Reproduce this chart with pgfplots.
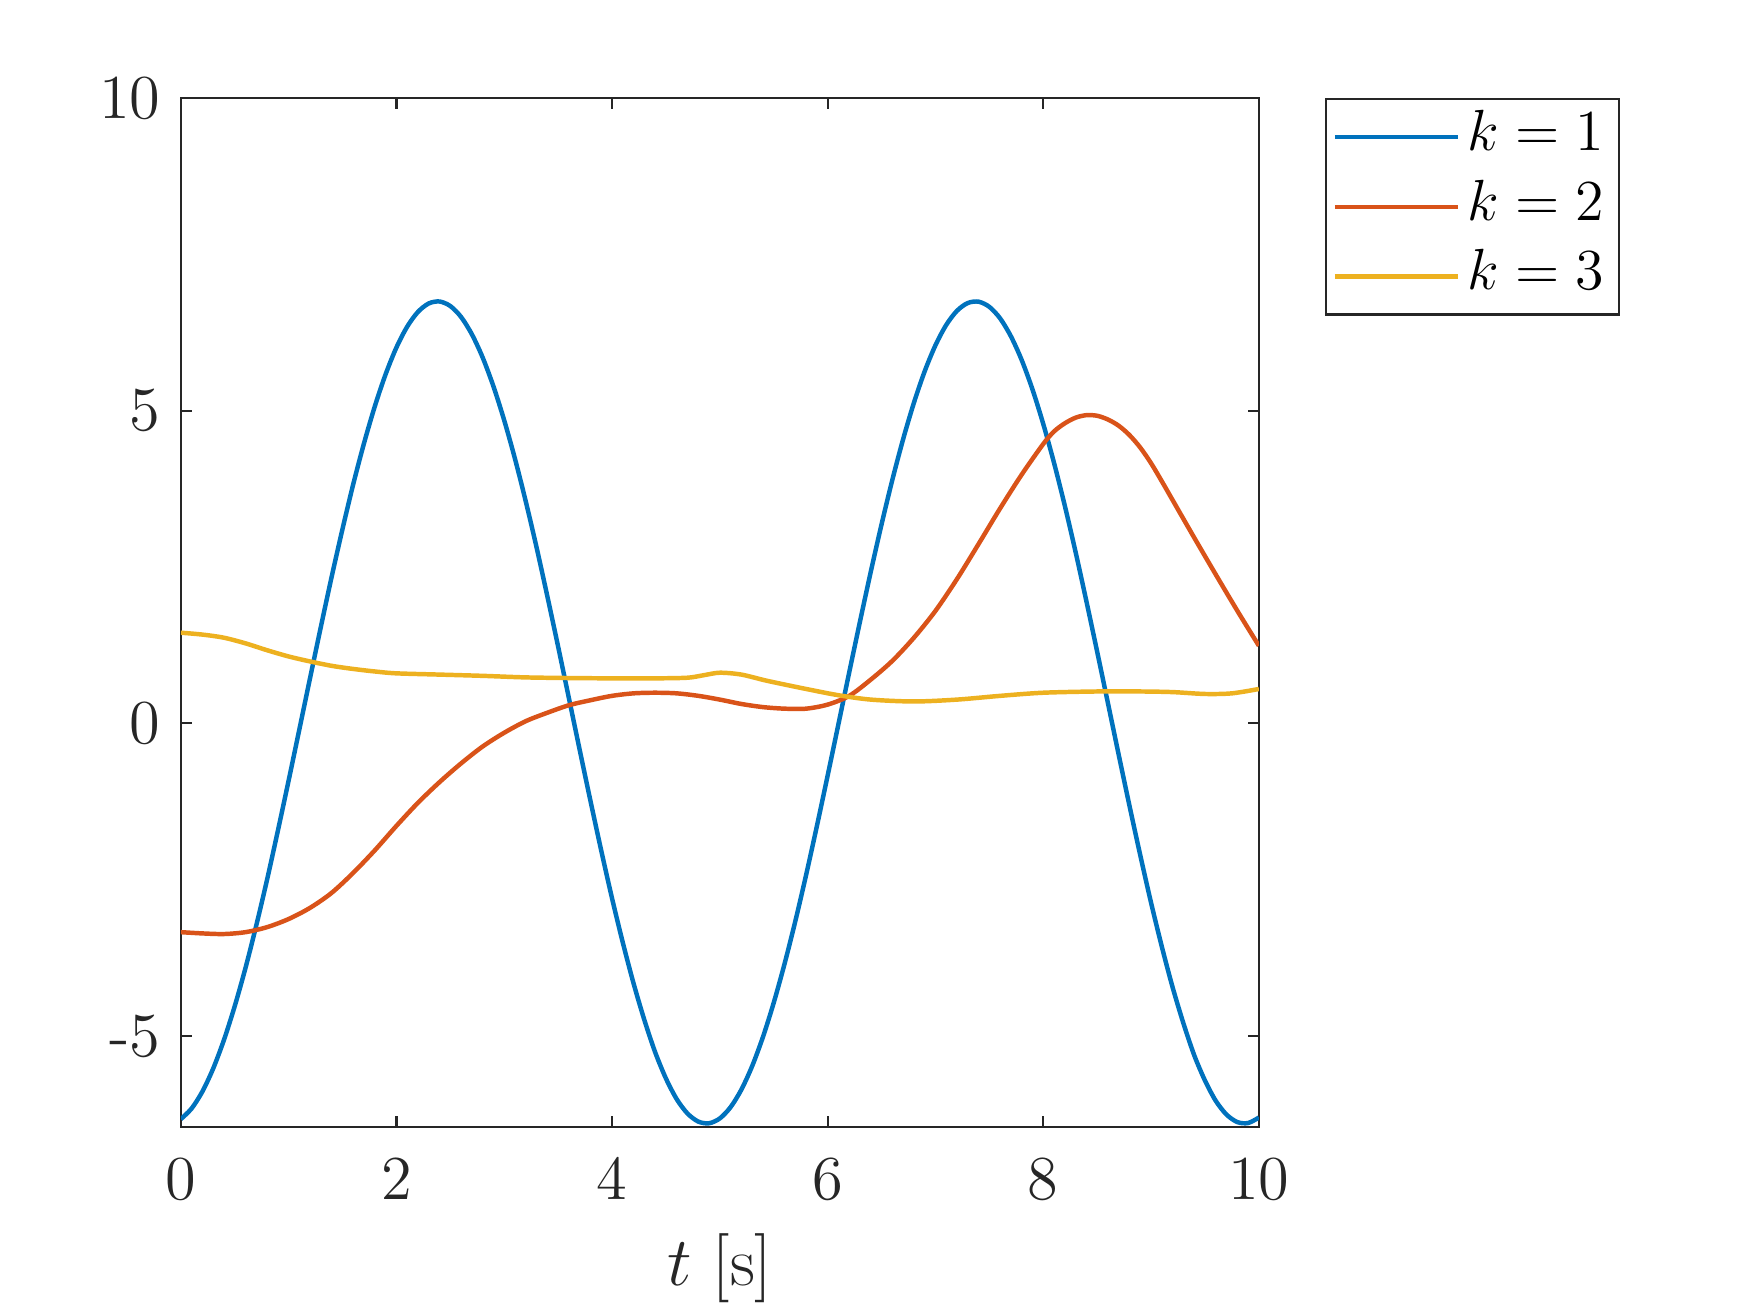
\RequirePackage{fix-cm}
\documentclass[border=0pt]{standalone}
\usepackage{pgfplots}
\pgfplotsset{compat=1.18}
\definecolor{c1}{rgb}{0,0.447,0.741}
\definecolor{c2}{rgb}{0.85,0.325,0.098}
\definecolor{c3}{rgb}{0.929,0.694,0.125}
\definecolor{axgray}{rgb}{0.15,0.15,0.15}
\begin{document}
\begin{tikzpicture}
\useasboundingbox (-40.5pt,-41.5pt) rectangle (351.5pt,252.5pt);
\begin{axis}[
  scale only axis, width=241.5pt, height=230.5pt,
  at={(0,0)}, anchor=south west,
  xmin=0, xmax=10, ymin=-6.46, ymax=10,
  xtick={0,2,4,6,8,10},
  ytick={-5,0,5,10}, yticklabels={-5,0,5,10},
  tick align=inside, tick pos=both, ticklabel pos=left,
  major tick length=2.4pt,
  axis line style={axgray, line width=0.5pt},
  every tick/.style={axgray, line width=0.5pt},
  tick label style={font=\fontsize{14}{17}\selectfont, text=axgray},
  xticklabel style={yshift=-3.6pt},
  yticklabel style={xshift=-1pt},
  xlabel={$t$ [s]},
  xlabel style={font=\fontsize{15.5}{18}\selectfont, at={(axis description cs:0.5,0)}, anchor=base, yshift=-35.5pt, text=axgray},
  legend style={at={(1.0611,1)}, anchor=north west, draw=axgray, line width=0.5pt,
    font=\fontsize{13}{16}\selectfont, inner xsep=1.5pt, inner ysep=0.7pt, row sep=0pt,
    nodes={inner sep=1.8pt, text height=9pt, text depth=3pt}},
  legend cell align=left,
  legend image code/.code={\draw[#1, line width=1pt] (0pt,0pt) -- (27.5pt,0pt);},
]
\addplot[c1, line width=1pt, smooth] coordinates {
(0,-6.331) (0.1,-6.161) (0.2,-5.890) (0.3,-5.523) (0.4,-5.065) (0.5,-4.525)
(0.6,-3.913) (0.7,-3.233) (0.8,-2.502) (0.9,-1.721) (1.0,-0.916) (1.1,-0.094)
(1.2,0.733) (1.3,1.551) (1.4,2.350) (1.5,3.110) (1.6,3.829) (1.7,4.484)
(1.8,5.073) (1.9,5.585) (2.0,6.012) (2.1,6.346) (2.2,6.582) (2.3,6.717)
(2.4,6.748) (2.5,6.675) (2.6,6.500) (2.7,6.223) (2.8,5.852) (2.9,5.390)
(3.0,4.846) (3.1,4.230) (3.2,3.548) (3.3,2.814) (3.4,2.032) (3.5,1.227)
(3.6,0.402) (3.7,-0.425) (3.8,-1.242) (3.9,-2.037) (4.0,-2.799) (4.1,-3.508)
(4.2,-4.162) (4.3,-4.746) (4.4,-5.261) (4.5,-5.681) (4.6,-6.012) (4.7,-6.241)
(4.8,-6.370) (4.9,-6.397) (5.0,-6.319) (5.1,-6.138) (5.2,-5.857) (5.3,-5.481)
(5.4,-5.015) (5.5,-4.467) (5.6,-3.847) (5.7,-3.164) (5.8,-2.425) (5.9,-1.643)
(6.0,-0.834) (6.1,-0.011) (6.2,0.816) (6.3,1.631) (6.4,2.426) (6.5,3.185)
(6.6,3.896) (6.7,4.546) (6.8,5.128) (6.9,5.632) (7.0,6.049) (7.1,6.374)
(7.2,6.600) (7.3,6.724) (7.4,6.745) (7.5,6.662) (7.6,6.477) (7.7,6.190)
(7.8,5.810) (7.9,5.340) (8.0,4.787) (8.1,4.164) (8.2,3.478) (8.3,2.737)
(8.4,1.952) (8.5,1.144) (8.6,0.320) (8.7,-0.507) (8.8,-1.323) (8.9,-2.114)
(9.0,-2.872) (9.1,-3.576) (9.2,-4.225) (9.3,-4.800) (9.4,-5.309) (9.5,-5.715)
(9.6,-6.039) (9.7,-6.259) (9.8,-6.378) (9.9,-6.393) (10.0,-6.305)
};
\addlegendentry{$k=1$}
\addplot[c2, line width=1pt, smooth] coordinates {
(0,-3.34) (0.2,-3.36) (0.4,-3.37) (0.6,-3.34) (0.8,-3.26) (1.0,-3.13)
(1.2,-2.95) (1.4,-2.71) (1.6,-2.39) (1.8,-2.03) (2.0,-1.64) (2.2,-1.27)
(2.4,-0.94) (2.6,-0.64) (2.8,-0.37) (3.0,-0.15) (3.2,0.035) (3.4,0.17)
(3.6,0.29) (3.8,0.37) (4.0,0.44) (4.2,0.48) (4.4,0.49) (4.6,0.48)
(4.8,0.44) (5.0,0.38) (5.2,0.31) (5.4,0.26) (5.6,0.235) (5.8,0.235)
(6.0,0.30) (6.2,0.44) (6.4,0.70) (6.6,1.00) (6.8,1.37) (7.0,1.80)
(7.2,2.31) (7.4,2.87) (7.6,3.44) (7.8,3.98) (8.0,4.47) (8.1,4.67)
(8.2,4.80) (8.3,4.89) (8.4,4.93) (8.5,4.92) (8.6,4.86) (8.7,4.76)
(8.8,4.61) (8.9,4.41) (9.0,4.16) (9.1,3.87) (9.2,3.57) (9.4,2.97)
(9.6,2.38) (9.8,1.80) (10.0,1.24)
};
\addlegendentry{$k=2$}
\addplot[c3, line width=1pt, smooth] coordinates {
(0,1.45) (0.2,1.42) (0.4,1.37) (0.6,1.28) (0.8,1.17) (1.0,1.07)
(1.2,0.99) (1.4,0.92) (1.6,0.87) (1.8,0.83) (2.0,0.80) (2.4,0.78)
(2.8,0.76) (3.2,0.735) (3.6,0.725) (4.0,0.72) (4.4,0.72) (4.7,0.73)
(4.85,0.77) (5.0,0.81) (5.2,0.78) (5.44,0.68) (5.8,0.55) (6.1,0.45)
(6.4,0.38) (6.8,0.35) (7.2,0.38) (7.6,0.44) (8.0,0.49) (8.5,0.51)
(8.9,0.51) (9.2,0.50) (9.5,0.47) (9.75,0.48) (10.0,0.55)
};
\addlegendentry{$k=3$}
\end{axis}
\end{tikzpicture}
\end{document}
